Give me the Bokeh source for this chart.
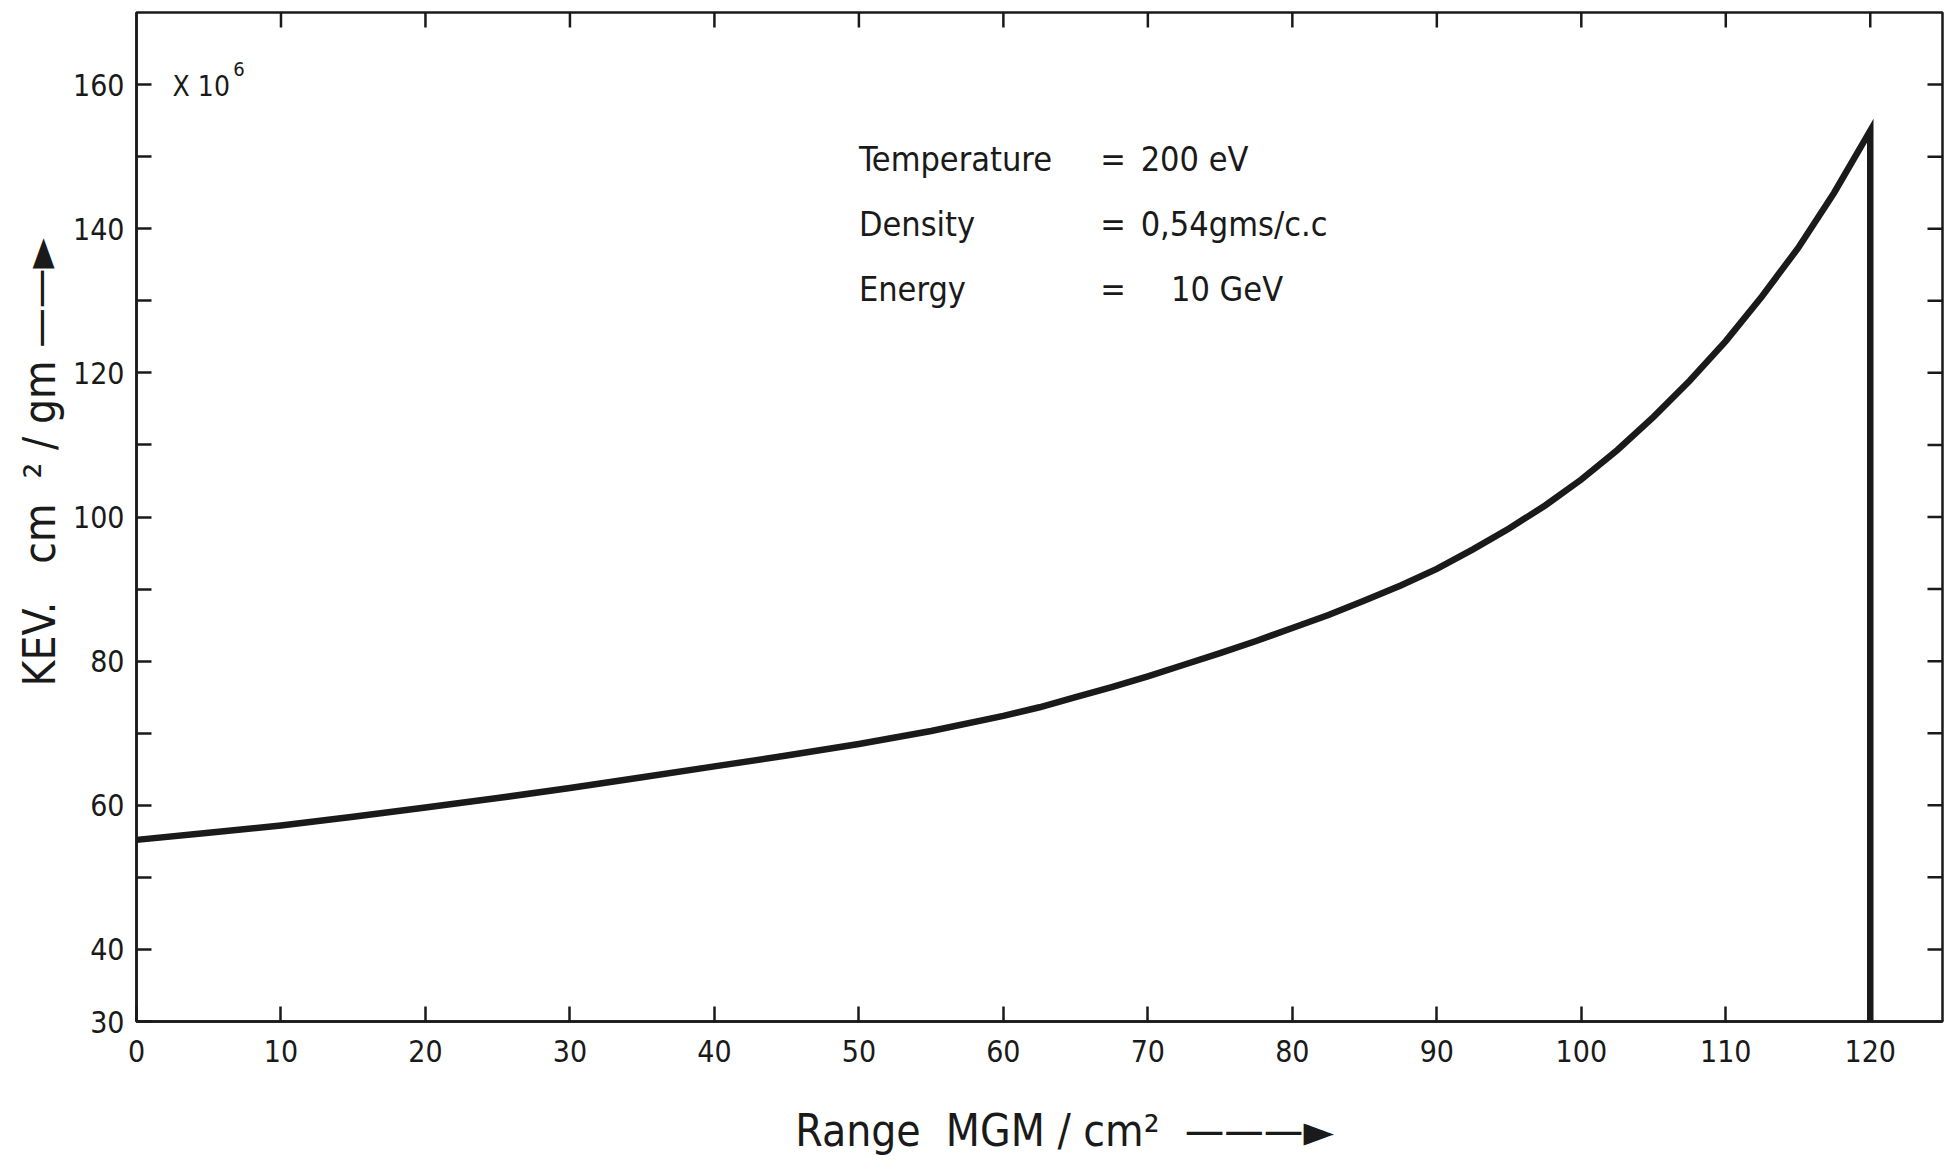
import math
from bokeh.plotting import figure
from bokeh.models import FixedTicker, Label, Range1d, Title
from bokeh.embed import file_html
from bokeh.resources import INLINE

# ---- data ----
range_mgm = [0, 5, 10, 15, 20, 25, 30, 35, 40, 45, 50, 55, 60, 62.5, 65, 67.5,
             70, 72.5, 75, 77.5, 80, 82.5, 85, 87.5, 90, 92.5, 95, 97.5, 100,
             102.5, 105, 107.5, 110, 112.5, 115, 117.5, 120]
kev_cm2_gm = [55.2, 56.2, 57.2, 58.4, 59.7, 61.0, 62.4, 63.9, 65.4, 66.9, 68.5,
              70.3, 72.4, 73.6, 75.0, 76.4, 77.9, 79.5, 81.1, 82.8, 84.6, 86.4,
              88.4, 90.5, 92.8, 95.5, 98.4, 101.6, 105.2, 109.3, 113.9, 118.9,
              124.4, 130.6, 137.3, 145.0, 153.6]
cutoff_range = 120
x_ticks = list(range(0, 121, 10))
y_ticks = list(range(30, 161, 10))
y_tick_labels = {t: (str(t) if (t == 30 or t % 20 == 0) else "") for t in y_ticks}
top_ticks = list(range(10, 121, 10))
right_ticks = list(range(40, 161, 10))
params = ["Temperature", "Density", "Energy"]
param_values = ["200 eV", "0,54gms/c.c", "10 GeV"]

FONT = "DejaVu Sans Condensed"
INK = "#1a1a1a"
X_MAX, Y_MIN, Y_MAX = 125, 30, 170

p = figure(width=1954, height=1171, output_backend="svg", toolbar_location=None,
           x_range=Range1d(0, X_MAX), y_range=Range1d(Y_MIN, Y_MAX),
           min_border_left=136, min_border_right=12, min_border_top=12,
           min_border_bottom=150)
p.grid.visible = False
p.outline_line_color = INK
p.outline_line_width = 2.5
p.background_fill_color = "white"
p.border_fill_color = "white"

for ax, ticks in ((p.xaxis[0], x_ticks), (p.yaxis[0], y_ticks)):
    ax.ticker = FixedTicker(ticks=ticks)
    ax.axis_line_color = INK
    ax.axis_line_width = 2.5
    ax.major_tick_line_color = INK
    ax.major_tick_line_width = 2.5
    ax.major_tick_in = 15
    ax.major_tick_out = 0
    ax.minor_tick_line_color = None
    ax.major_label_text_font = FONT
    ax.major_label_text_color = INK
    ax.major_label_text_font_size = "30px"

NB = "\u00a0"
xa = p.xaxis[0]
xa.major_label_standoff = 18
xa.axis_label = NB * 4 + "Range" + NB * 2 + "MGM / cm\u00b2" + NB * 2 + "\u2014\u2014\u2014\u25ba"
xa.axis_label_text_font = FONT
xa.axis_label_text_font_size = "44px"
xa.axis_label_text_font_style = "normal"
xa.axis_label_text_color = INK
xa.axis_label_standoff = 40

p.yaxis[0].major_label_overrides = y_tick_labels
p.yaxis[0].major_label_standoff = 12

# inward ticks on the top and right edges of the frame
p.ray(x=top_ticks, y=[Y_MAX] * len(top_ticks), length=15, length_units="screen",
      angle=-math.pi / 2, line_color=INK, line_width=2.5)
p.ray(x=[X_MAX] * len(right_ticks), y=right_ticks, length=15, length_units="screen",
      angle=math.pi, line_color=INK, line_width=2.5)

# curve with the vertical cut-off at the end of range
xs = range_mgm + [cutoff_range]
ys = kev_cm2_gm + [Y_MIN]
p.line(xs, ys, line_width=6.5, line_color=INK, line_join="miter")

# multiplier
p.add_layout(Label(x=2.5, y=159.7, text="X 10", text_font=FONT, text_font_size="28px",
                   text_baseline="middle", text_color=INK))
p.add_layout(Label(x=6.7, y=162.2, text="6", text_font=FONT, text_font_size="20px",
                   text_baseline="middle", text_color=INK))

# parameter block
rows_y = [149.7, 140.7, 131.7]
for name, val, yy in zip(params, param_values, rows_y):
    p.add_layout(Label(x=50, y=yy, text=name, text_font=FONT, text_font_size="34px",
                       text_baseline="middle", text_color=INK))
    p.add_layout(Label(x=66.7, y=yy, text="=", text_font=FONT, text_font_size="34px",
                       text_baseline="middle", text_color=INK))
    p.add_layout(Label(x=69.5 if val != "10 GeV" else 71.6, y=yy, text=val, text_font=FONT,
                       text_font_size="34px", text_baseline="middle", text_color=INK))

# y axis title (with its arrow) as a side-panel title
ytitle = Title(text="KEV." + NB * 3 + "cm" + NB * 2 + "\u00b2" + NB + "/" + NB + "gm" + NB + "\u2014\u2014\u25ba",
               align="left", offset=335, text_font=FONT, text_font_size="44px",
               text_font_style="normal", text_color=INK)
p.add_layout(ytitle, "left")

open("out.html", "w").write(file_html(p, INLINE))
